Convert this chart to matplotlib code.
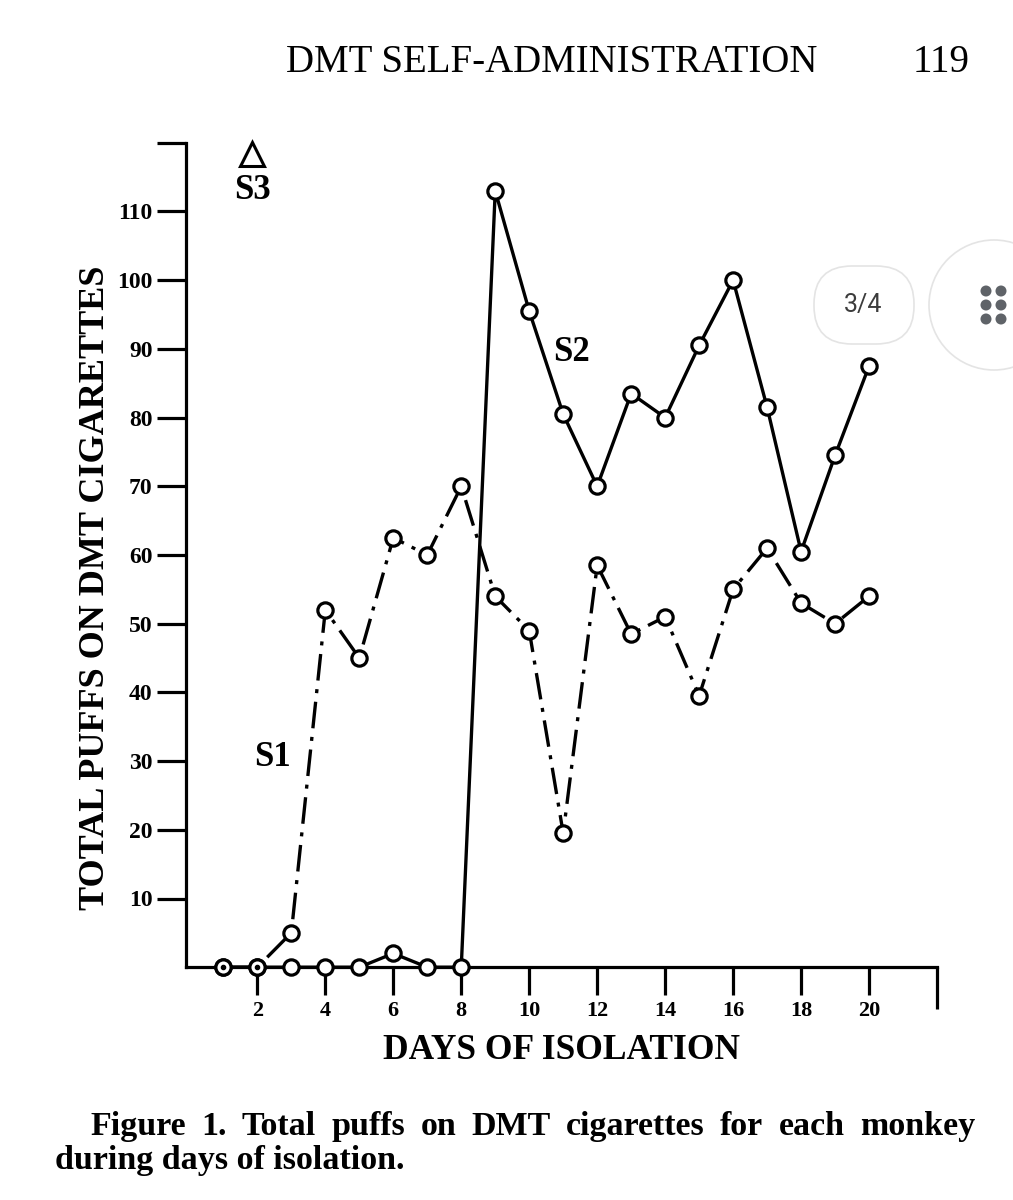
import numpy as np
import matplotlib
matplotlib.use("Agg")
import matplotlib.pyplot as plt
from matplotlib.patches import FancyBboxPatch, Circle

# data
days = list(range(1, 21))
s1_puffs = [0, 0, 5, 52, 45, 62.5, 60, 70, 54, 49, 19.5, 58.5, 48.5, 51, 39.5, 55, 61, 53, 50, 54]
s2_puffs = [0, 0, 0, 0, 0, 2, 0, 0, 113, 95.5, 80.5, 70, 83.5, 80, 90.5, 100, 81.5, 60.5, 74.5, 87.5]
s3_mark = (1.85, 118.4)

xtick_days = [2, 4, 6, 8, 10, 12, 14, 16, 18, 20]
ytick_vals = [10, 20, 30, 40, 50, 60, 70, 80, 90, 100, 110, 120]
ytick_labels = ["10", "20", "30", "40", "50", "60", "70", "80", "90", "100", "110", ""]

caption1 = "Figure 1. Total puffs on DMT cigarettes for each monkey"
caption2 = "during days of isolation."

serif = ["Liberation Serif", "DejaVu Serif"]
plt.rcParams["font.family"] = serif

W, H = 1013, 1200
fig = plt.figure(figsize=(W / 100, H / 100), dpi=100)
ax = fig.add_axes([0.1836, 0.194, 0.7414, 0.687])

lw = 2.4
ax.plot(days, s2_puffs, color="black", lw=lw, marker="o", ms=11,
        mfc="white", mec="black", mew=2.3, zorder=3, clip_on=False)
ax.plot(days, s1_puffs, color="black", lw=lw, ls=(0, (8, 2.6, 1.2, 2.6)),
        marker="o", ms=11, mfc="white", mec="black", mew=2.3, zorder=4, clip_on=False)

# both monkeys at zero on the same day -> dot inside the circle
both = [d for d, a, b in zip(days, s1_puffs, s2_puffs) if a == b]
ax.plot(both, [0] * len(both), "o", color="black", ms=3, zorder=5, clip_on=False)

ax.plot(*s3_mark, marker="^", ms=17, mfc="white", mec="black", mew=2.2, clip_on=False)
ax.text(s3_mark[0], s3_mark[1] - 3.0, "S3", ha="center", va="top",
        fontsize=25, fontweight="bold")
ax.text(11.25, 89.5, "S2", ha="center", va="center", fontsize=25, fontweight="bold")
ax.text(2.45, 30.5, "S1", ha="center", va="center", fontsize=25, fontweight="bold")

ax.set_xlim(-0.1, 22)
ax.set_ylim(0, 120)
for side in ["top", "right"]:
    ax.spines[side].set_visible(False)
for side in ["left", "bottom"]:
    ax.spines[side].set_linewidth(2.3)

ax.set_xticks(xtick_days)
ax.set_xticks([22], minor=True)
ax.set_yticks(ytick_vals)
ax.set_yticklabels(ytick_labels)
ax.tick_params(axis="x", which="major", direction="out", length=20, width=2.3, pad=4,
               labelsize=16)
ax.tick_params(axis="x", which="minor", direction="out", length=30, width=2.3)
ax.tick_params(axis="y", direction="out", length=21, width=2.3, pad=3, labelsize=17)
for lab in ax.get_xticklabels() + ax.get_yticklabels():
    lab.set_fontweight("bold")

ax.set_xlabel("DAYS OF ISOLATION", fontsize=25.5, fontweight="bold", labelpad=10)
ax.set_ylabel("TOTAL PUFFS ON DMT CIGARETTES", fontsize=26, fontweight="bold")
ax.yaxis.set_label_coords(-0.098, 0.46)

# page header
fig.text(0.2823, 0.94, "DMT SELF-ADMINISTRATION", fontsize=28, ha="left", va="baseline")
fig.text(0.957, 0.94, "119", fontsize=28, ha="right", va="baseline")

# caption: first line justified between the margins, as in print
renderer = fig.canvas.get_renderer()
words = [fig.text(0, 0.054, w, fontsize=24.5, fontweight="bold", va="baseline")
         for w in caption1.split(" ")]
widths = [t.get_window_extent(renderer).width for t in words]
x0, x1 = 90, 975
gap = (x1 - x0 - sum(widths)) / (len(words) - 1)
x = x0
for t, w in zip(words, widths):
    t.set_x(x / W)
    x += w + gap
fig.text(0.054, 0.026, caption2, fontsize=24.5, fontweight="bold", ha="left", va="baseline")

# viewer overlay (page counter and menu button), in pixel coordinates
ui = fig.add_axes([0, 0, 1, 1], zorder=10)
ui.set_xlim(0, W)
ui.set_ylim(H, 0)
ui.axis("off")
ui.patch.set_alpha(0)
ui.add_patch(FancyBboxPatch((814, 266), 100, 78, boxstyle="round,pad=0,rounding_size=38",
                            fc="white", ec="#e4e4e4", lw=1.2))
ui.text(863, 305, "3/4", family="Roboto", fontsize=18, color="#3c3c3c",
        ha="center", va="center")
ui.add_patch(Circle((994, 305), 65, fc="white", ec="#e4e4e4", lw=1.2, clip_on=False))
for cx in [986, 1001]:
    for cy in [291, 305, 319]:
        ui.add_patch(Circle((cx, cy), 5.5, fc="#5f6368", ec="none"))

fig.savefig("out.png", dpi=100)
